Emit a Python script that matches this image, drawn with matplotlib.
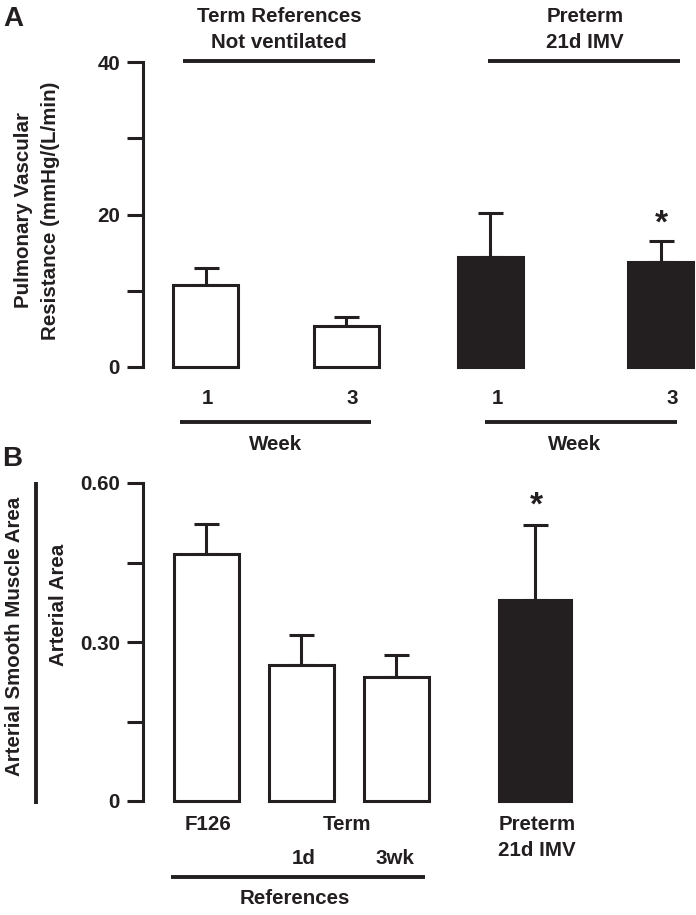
import matplotlib
matplotlib.use("Agg")
import matplotlib.pyplot as plt
from matplotlib.ticker import MultipleLocator
from matplotlib.lines import Line2D

plt.rcParams['font.family'] = ['Liberation Sans', 'DejaVu Sans']
plt.rcParams['font.weight'] = 'bold'

INK = '#231f20'

# panel A: pulmonary vascular resistance
pvr_weeks = ["1", "3", "1", "3"]
pvr_mean = [10.7, 5.4, 14.4, 13.8]
pvr_err = [2.3, 1.2, 5.8, 2.7]
pvr_fill = ['white', 'white', INK, INK]

# panel B: arterial smooth muscle area / arterial area
asm_mean = [0.466, 0.257, 0.234, 0.379]
asm_err = [0.057, 0.056, 0.041, 0.142]
asm_fill = ['white', 'white', 'white', INK]

W, H = 696, 915
FS = 14.8
fig = plt.figure(figsize=(W / 100, H / 100), dpi=100)


def fx(x):
    return x / W


def fy(y):
    return 1 - y / H


def ftext(x, y, s, **kw):
    kw.setdefault('fontsize', FS)
    kw.setdefault('ha', 'center')
    kw.setdefault('va', 'center')
    kw.setdefault('color', INK)
    fig.text(fx(x), fy(y), s, fontweight='bold', **kw)


def fline(x0, x1, y0, y1, lw=2.8):
    fig.add_artist(Line2D([fx(x0), fx(x1)], [fy(y0), fy(y1)],
                          color=INK, lw=lw, solid_capstyle='butt'))


def style_axis(ax):
    for s in ['top', 'right', 'bottom']:
        ax.spines[s].set_visible(False)
    ax.spines['left'].set_linewidth(2.2)
    ax.spines['left'].set_color(INK)
    ax.set_xticks([])
    ax.tick_params(axis='y', which='both', direction='out', length=11.5,
                   width=2.2, color=INK, labelsize=FS, pad=5, labelcolor=INK)
    ax.set_xlim(0, W - 143)


def draw_bars(ax, xpos, means, errs, fills, width):
    ax.errorbar(xpos, means, yerr=[[0] * len(means), errs], fmt='none',
                ecolor=INK, elinewidth=2.2, capsize=9, capthick=2.2,
                zorder=1, clip_on=False)
    ax.bar(xpos, means, width=width, color=fills, edgecolor=INK,
           linewidth=2.2, zorder=2, clip_on=False)


# ---- panel A
axA = fig.add_axes([fx(143), fy(367), fx(W - 143), (367 - 62) / H])
style_axis(axA)
xa = [62.5, 203, 347, 517.5]
draw_bars(axA, xa, pvr_mean, pvr_err, pvr_fill, 65)
axA.set_ylim(0, 40)
axA.set_yticks([0, 20, 40])
axA.yaxis.set_minor_locator(MultipleLocator(10))

for x, s in zip([207, 352, 497, 672], pvr_weeks):
    ftext(x, 398, s)

ftext(279, 16, "Term References")
ftext(279, 43, "Not ventilated")
fline(183, 375, 61, 61)
ftext(585, 16, "Preterm")
ftext(585, 43, "21d IMV")
fline(488, 680, 61, 61)

fline(180, 371, 422, 422)
ftext(276, 445, "Week")
fline(485, 677, 422, 422)
ftext(575, 445, "Week")
ftext(661, 224, "*", fontsize=24)

ftext(24, 210, "Pulmonary Vascular", rotation=90)
ftext(51, 211, "Resistance (mmHg/(L/min)", rotation=90)
ftext(13, 19, "A", fontsize=20)

# ---- panel B
axB = fig.add_axes([fx(143), fy(801), fx(W - 143), (801 - 483) / H])
style_axis(axB)
xb = [63, 158, 253, 391.5]
draw_bars(axB, xb, asm_mean, asm_err, asm_fill, [65, 65, 65, 72])
axB.set_ylim(0, 0.6)
axB.set_yticks([0, 0.3, 0.6], ["0", "0.30", "0.60"])
axB.yaxis.set_minor_locator(MultipleLocator(0.15))

ftext(208, 824, "F126")
ftext(347, 824, "Term")
ftext(304, 858, "1d")
ftext(395, 858, "3wk")
ftext(537, 824, "Preterm")
ftext(537, 850, "21d IMV")
fline(171, 425, 877, 877)
ftext(295, 899, "References")
ftext(536, 506, "*", fontsize=24)

ftext(15, 636, "Arterial Smooth Muscle Area", rotation=90)
fline(36, 36, 482, 804)
ftext(58, 605, "Arterial Area", rotation=90)
ftext(12, 459, "B", fontsize=20)

fig.savefig("out.png", dpi=100)
